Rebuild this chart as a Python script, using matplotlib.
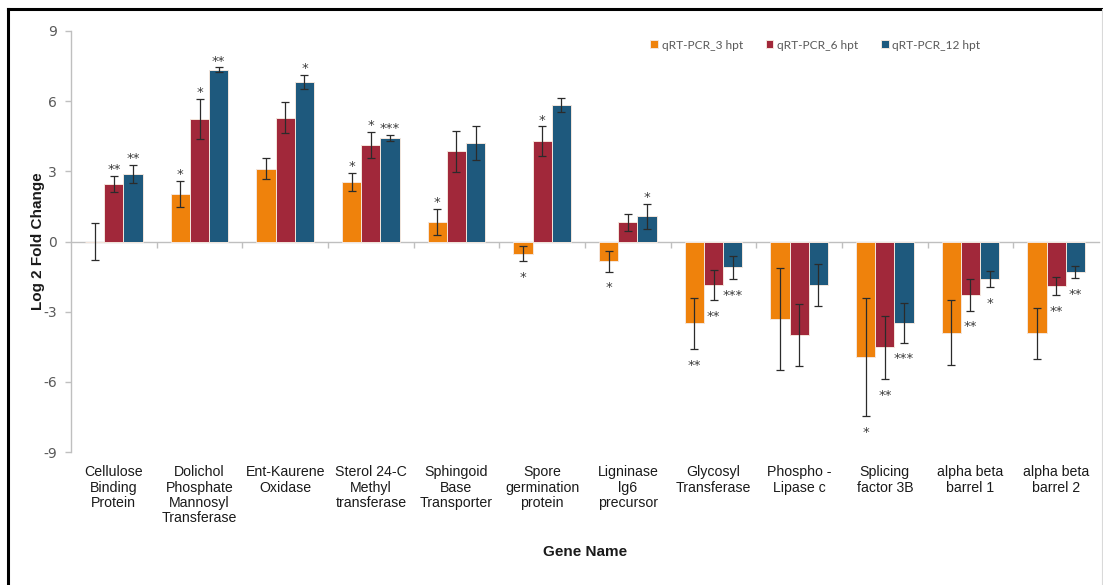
import numpy as np
import matplotlib
matplotlib.use("Agg")
import matplotlib.pyplot as plt
from matplotlib.lines import Line2D
from matplotlib.transforms import blended_transform_factory

genes = [
    "Cellulose\nBinding\nProtein",
    "Dolichol\nPhosphate\nMannosyl\nTransferase",
    "Ent-Kaurene\nOxidase",
    "Sterol 24-C\nMethyl\ntransferase",
    "Sphingoid\nBase\nTransporter",
    "Spore\ngermination\nprotein",
    "Ligninase\nlg6\nprecursor",
    "Glycosyl\nTransferase",
    "Phospho -\nLipase c",
    "Splicing\nfactor 3B",
    "alpha beta\nbarrel 1",
    "alpha beta\nbarrel 2",
]

series_names = ["qRT-PCR_3 hpt", "qRT-PCR_6 hpt", "qRT-PCR_12 hpt"]

fc_3h = [0.0, 2.04, 3.12, 2.55, 0.83, -0.53, -0.85, -3.50, -3.32, -4.93, -3.90, -3.93]
fc_6h = [2.47, 5.24, 5.30, 4.12, 3.85, 4.29, 0.83, -1.87, -3.99, -4.53, -2.29, -1.91]
fc_12h = [2.90, 7.35, 6.81, 4.43, 4.20, 5.84, 1.08, -1.11, -1.87, -3.47, -1.60, -1.30]

err_3h = [0.77, 0.56, 0.45, 0.38, 0.56, 0.32, 0.44, 1.10, 2.19, 2.53, 1.40, 1.10]
err_6h = [0.34, 0.86, 0.68, 0.55, 0.88, 0.63, 0.36, 0.65, 1.33, 1.35, 0.67, 0.39]
err_12h = [0.39, 0.09, 0.31, 0.13, 0.73, 0.31, 0.54, 0.51, 0.90, 0.85, 0.36, 0.27]

sig_3h = ["", "*", "", "*", "*", "*", "*", "**", "", "*", "", ""]
sig_6h = ["**", "*", "", "*", "", "*", "", "**", "", "**", "**", "**"]
sig_12h = ["**", "**", "*", "***", "", "", "*", "***", "", "***", "*", "**"]

y_ticks = [-9, -6, -3, 0, 3, 6, 9]

colors = ["#EF820C", "#A1283A", "#1E597D"]

fig = plt.figure(figsize=(11.03, 5.85), dpi=100)
W, H = 1103, 585
ax = fig.add_axes([71 / W, 1 - 452 / H, 1028 / W, 421 / H])

n = len(genes)
x = np.arange(n)
bw = 0.225
values = [fc_3h, fc_6h, fc_12h]
errors = [err_3h, err_6h, err_12h]
sigs = [sig_3h, sig_6h, sig_12h]

for k in range(3):
    pos = x + (k - 1) * bw
    ax.bar(pos, values[k], width=bw, color=colors[k], edgecolor="#F4E6DC",
           linewidth=0.7, label=series_names[k], zorder=2)
    ax.errorbar(pos, values[k], yerr=errors[k], fmt="none", ecolor="#2b2b2b",
                elinewidth=0.9, capsize=2.8, capthick=0.9, zorder=3)
    for i in range(n):
        s = sigs[k][i]
        if not s:
            continue
        v = values[k][i]
        e = errors[k][i]
        if v >= 0:
            ax.annotate(s, (pos[i], v + e), xytext=(0, 2.0), textcoords="offset points",
                        ha="center", va="baseline", fontsize=9.5, color="#3a3a3a",
                        family="DejaVu Sans", zorder=4)
        else:
            ax.annotate(s, (pos[i], v - e), xytext=(0, -14.2), textcoords="offset points",
                        ha="center", va="baseline", fontsize=9.5, color="#3a3a3a",
                        family="DejaVu Sans", zorder=4)

ax.set_xlim(-0.5, n - 0.5)
ax.set_ylim(-9, 9)

# spines: y axis on the left, x axis through zero
for side in ["top", "right"]:
    ax.spines[side].set_visible(False)
ax.spines["left"].set_color("#BFBFBF")
ax.spines["left"].set_linewidth(1.0)
ax.spines["bottom"].set_position(("data", 0))
ax.spines["bottom"].set_color("#BFBFBF")
ax.spines["bottom"].set_linewidth(1.0)
ax.spines["bottom"].set_zorder(1)

ax.set_yticks(y_ticks)
ax.set_yticklabels([str(t) for t in y_ticks])
ax.tick_params(axis="y", direction="out", length=4, width=1.0, color="#BFBFBF",
               labelsize=10, labelcolor="#595959", pad=6)
ax.set_xticks(np.arange(n - 1) + 0.5)
ax.set_xticklabels([])
ax.tick_params(axis="x", direction="out", length=4, width=1.0, color="#BFBFBF")

label_font = ["Liberation Sans Narrow", "Liberation Sans", "DejaVu Sans"]
trans = blended_transform_factory(ax.transData, ax.transAxes)
for i, g in enumerate(genes):
    ax.text(i, -0.032, g, transform=trans, ha="center", va="top", fontsize=10.2,
            family=label_font, color="#1a1a1a", linespacing=1.12)

ax.text(0.5, -0.22, "Gene Name", transform=ax.transAxes, ha="center", va="top",
        fontsize=11, fontweight="bold", family=label_font, color="#1a1a1a")
ax.set_ylabel("Log 2 Fold Change", fontsize=11, fontweight="bold",
              family=["Liberation Sans", "DejaVu Sans"], color="#1a1a1a", labelpad=-1)

leg = ax.legend(loc="upper left", bbox_to_anchor=(0.553, 1.005), ncol=3, frameon=False,
                handlelength=0.65, handleheight=0.65, handletextpad=0.3,
                columnspacing=1.9, prop={"family": ["Lato", "DejaVu Sans"], "size": 8.6})
for t in leg.get_texts():
    t.set_color("#595959")

# outer frame
fig.add_artist(Line2D([8 / W, 1], [1 - 9 / H, 1 - 9 / H], transform=fig.transFigure,
                      color="black", linewidth=2.2))
fig.add_artist(Line2D([8 / W, 8 / W], [0, 1 - 9 / H], transform=fig.transFigure,
                      color="black", linewidth=2.2))
fig.add_artist(Line2D([1101.5 / W, 1101.5 / W], [0, 1 - 9 / H], transform=fig.transFigure,
                      color="#D9D9D9", linewidth=0.8))

fig.savefig("out.png", dpi=100)
